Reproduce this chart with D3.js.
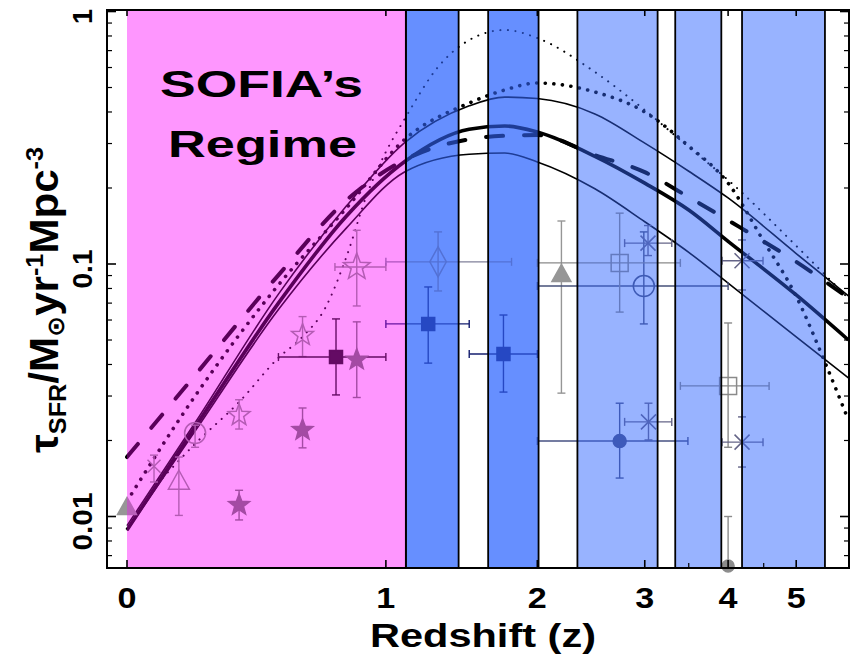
<!DOCTYPE html>
<html><head><meta charset="utf-8">
<script src="https://cdn.jsdelivr.net/npm/d3@7"></script>
<style>
body{margin:0;background:#fff}
svg{display:block}
text{font-family:"Liberation Sans",Arial,"DejaVu Sans",sans-serif;font-weight:bold;fill:#000}
</style>
</head><body>
<svg id="c" width="850" height="656"></svg>
<script>
// ---------------- data ----------------
const zTicks = [0, 1, 2, 3, 4, 5];
const zTickLabels = ["0", "1", "2", "3", "4", "5"];
const zMinorTicks = [3.5, 4.5];
const vTicks = [1, 0.1, 0.01];
const vTickLabels = ["1", "0.1", "0.01"];

const sofiaBand = [[0, 1.11]];
const deepBands = [[1.11, 1.43], [1.63, 2.01]];
const lightBands = [[2.34, 3.14], [3.34, 3.91], [4.19, 5.48]];

const curveZ      = [0, 0.2, 0.5, 0.8, 1.1, 1.5, 1.75, 2, 2.5, 3, 3.5, 4, 5, 5.9];
const fitMain     = [0.00885, 0.0226, 0.070, 0.155, 0.2535, 0.342, 0.352, 0.333, 0.267, 0.209, 0.1636, 0.123, 0.0754, 0.050];
const fitUpper    = [0.0092, 0.0235, 0.076, 0.170, 0.301, 0.423, 0.458, 0.452, 0.393, 0.301, 0.233, 0.1826, 0.110, 0.0747];
const fitLower    = [0.0088, 0.0218, 0.066, 0.139, 0.231, 0.2722, 0.2752, 0.2535, 0.1985, 0.147, 0.1112, 0.084, 0.0514, 0.0354];
const modelDashed = [0.0172, 0.0363, 0.0904, 0.179, 0.258, 0.312, 0.322, 0.324, 0.270, 0.231, 0.184, 0.149, 0.102, 0.0735];

const dotZ        = [0, 0.2, 0.5, 0.8, 1.1, 1.5, 1.75, 2, 2.5, 3, 3.5, 4, 4.5, 5, 5.5, 5.9];
const modelDotted = [0.0115, 0.030, 0.0826, 0.1667, 0.310, 0.434, 0.489, 0.521, 0.48, 0.40, 0.293, 0.209, 0.123, 0.0745, 0.0398, 0.0241];

const fineZ       = [0.1, 0.2, 0.35, 0.5, 0.6, 0.7, 0.8, 0.9, 1.0, 1.1, 1.3, 1.5, 1.75, 2, 2.5, 3, 3.5, 4, 5, 5.9];
const modelFine   = [0.0142, 0.0194, 0.0284, 0.0425, 0.0515, 0.0669, 0.107, 0.1876, 0.278, 0.372, 0.603, 0.771, 0.845, 0.785, 0.576, 0.407, 0.29, 0.215, 0.118, 0.073];

// observational points
const ptZ   = [0, 0.075, 0.149, 0.20, 0.35, 0.35, 0.60, 0.60, 0.75, 0.85, 0.85, 1.30, 1.24, 1.74, 2.20, 2.99, 2.74, 3.035, 3.04, 2.74, 4.00, 4.19, 4.19, 4.00];
const ptV   = [0.0108, 0.0158, 0.0137, 0.0214, 0.0252, 0.0111, 0.022, 0.0523, 0.0428, 0.0418, 0.0973, 0.102, 0.0579, 0.044, 0.0904, 0.0818, 0.101, 0.121, 0.0237, 0.0199, 0.0329, 0.0197, 0.103, 0.00637];
const ptVlo = [null, 0.0137, 0.0101, 0.0188, 0.0222, 0.00969, 0.0187, 0.0430, 0.0303, 0.0296, 0.0682, 0.0782, 0.0405, 0.0311, 0.0308, 0.0579, 0.0645, 0.108, 0.0201, 0.0142, 0.0188, 0.0157, 0.0789, 0.00637];
const ptVhi = [null, 0.0175, 0.0172, 0.0230, 0.0290, 0.0127, 0.0269, 0.0619, 0.0606, 0.0590, 0.136, 0.134, 0.0811, 0.0628, 0.148, 0.134, 0.159, 0.142, 0.0281, 0.0281, 0.0584, 0.0248, 0.1245, 0.0100];
const ptZlo = [null, null, null, null, null, null, null, null, 0.50, null, 0.745, 1.0, 1.0, 1.5, null, 2.0, 2.0, 2.79, 2.79, 2.0, 3.40, 3.92, 3.92, null];
const ptZhi = [null, null, null, null, null, null, null, null, 1.0, null, 1.0, 1.8, 1.5, 2.0, null, 4.0, 3.4, 3.30, 3.30, 3.49, 4.58, 4.49, 4.49, null];
const ptKind = ["triFill", "cross", "triOpen", "circOpen", "starOpen", "starFill", "starFill", "starOpen", "sqFill", "starFill", "starOpenBig", "diamond", "sqFillBlue", "sqFillBlue", "triFill", "circOpenBlue", "sqOpen", "cross2", "cross2", "circFillBlue", "sqOpen", "cross2", "cross2", "circFill"];

// ---------------- drawing ----------------
const svg = d3.select("#c");
const X0 = 107, X1 = 849, Y0 = 10, Y1 = 568;
const xs = d3.scaleLog().domain([1, 6]).range([127, 796.2]);
const xz = z => xs(1 + z);
const ys = d3.scaleLog().domain([1, 0.01]).range([11.5, 516.5]);

svg.append("defs").append("clipPath").attr("id", "plot")
  .append("rect").attr("x", X0).attr("y", Y0).attr("width", X1 - X0).attr("height", Y1 - Y0);

const bands = [
  ...sofiaBand.map(b => ({b, base: "rgb(254,231,254)", over: "rgb(255,0,255)", op: 0.35, sofia: true})),
  ...deepBands.map(b => ({b, base: "rgb(175,202,255)", over: "rgb(51,102,255)", op: 0.59})),
  ...lightBands.map(b => ({b, base: "rgb(236,242,255)", over: "rgb(51,102,255)", op: 0.45}))
];

// base band layer
svg.append("g").selectAll("rect").data(bands).join("rect")
  .attr("x", d => xz(d.b[0])).attr("y", Y0)
  .attr("width", d => xz(d.b[1]) - xz(d.b[0])).attr("height", Y1 - Y0)
  .attr("fill", d => d.base);

// curves
const curveDefs = [
  {z: fineZ, v: modelFine, w: 2, dash: "0.1,7.5"},
  {z: dotZ, v: modelDotted, w: 3.6, dash: "0.1,8.5"},
  {z: curveZ, v: fitUpper, w: 1.6},
  {z: curveZ, v: fitLower, w: 1.6},
  {z: curveZ, v: modelDashed, w: 4, dash: "17,21"},
  {z: curveZ, v: fitMain, w: 3.6}
];
const line = d3.line().x(d => xz(d[0])).y(d => ys(d[1])).curve(d3.curveMonotoneX);
const cg = svg.append("g").attr("clip-path", "url(#plot)");
curveDefs.forEach(c => {
  cg.append("path").attr("d", line(c.z.map((z, i) => [z, c.v[i]])))
    .attr("fill", "none").attr("stroke", "#000").attr("stroke-width", c.w)
    .attr("stroke-linecap", c.dash ? "round" : "butt")
    .attr("stroke-dasharray", c.dash || null);
});

// markers
function starPath(R) {
  let p = "";
  for (let i = 0; i < 10; i++) {
    const r = i % 2 ? R * 0.42 : R, a = -Math.PI / 2 + i * Math.PI / 5;
    p += (i ? "L" : "M") + (r * Math.cos(a)).toFixed(2) + "," + (r * Math.sin(a)).toFixed(2);
  }
  return p + "Z";
}
function shapePath(shape, s) {
  switch (shape) {
    case "tri": { const h = s * 0.9; return `M0,${-h * 0.62}L${s / 2},${h * 0.38}L${-s / 2},${h * 0.38}Z`; }
    case "sq": return `M${-s / 2},${-s / 2}h${s}v${s}h${-s}Z`;
    case "circ": return `M${s},0A${s},${s} 0 1,1 ${-s},0A${s},${s} 0 1,1 ${s},0Z`;
    case "star": return starPath(s);
    case "diam": return `M0,${-s}L${s * 0.55},0L0,${s}L${-s * 0.55},0Z`;
    case "x": { const h = s / 2; return `M${-h},${-h}L${h},${h}M${-h},${h}L${h},${-h}`; }
  }
}
const kindStyle = {
  triFill:      {shape: "tri", size: 19, fill: "#969696", stroke: "#969696"},
  cross:        {shape: "x", size: 13, fill: "none", stroke: "#8c8c8c"},
  triOpen:      {shape: "tri", size: 21, fill: "none", stroke: "#8c8c8c"},
  circOpen:     {shape: "circ", size: 10.5, fill: "none", stroke: "#8c8c8c"},
  starOpen:     {shape: "star", size: 11.5, fill: "none", stroke: "#8c8c8c"},
  starOpenBig:  {shape: "star", size: 14, fill: "none", stroke: "#8c8c8c"},
  starFill:     {shape: "star", size: 11, fill: "#737373", stroke: "#737373"},
  sqFill:       {shape: "sq", size: 13, fill: "#111111", stroke: "#111111"},
  diamond:      {shape: "diam", size: 15, fill: "none", stroke: "#80809a"},
  sqFillBlue:   {shape: "sq", size: 13, fill: "#141e6e", stroke: "#141e6e"},
  circOpenBlue: {shape: "circ", size: 10.5, fill: "none", stroke: "#465078"},
  sqOpen:       {shape: "sq", size: 17, fill: "none", stroke: "#8a8a8a"},
  cross2:       {shape: "x", size: 15, fill: "none", stroke: "#646487"},
  circFillBlue: {shape: "circ", size: 6.5, fill: "#465082", stroke: "#465082"},
  circFill:     {shape: "circ", size: 6, fill: "#8c8c8c", stroke: "#8c8c8c"}
};
const pts = ptZ.map((z, i) => ({z, v: ptV[i], vlo: ptVlo[i], vhi: ptVhi[i], zlo: ptZlo[i], zhi: ptZhi[i], st: kindStyle[ptKind[i]]}));
const pg = svg.append("g");
const cap = 4;
pts.forEach(p => {
  const g = pg.append("g").attr("stroke", p.st.stroke).attr("stroke-width", 1.4).attr("fill", "none");
  const px = xz(p.z), py = ys(p.v);
  if (p.vlo != null) {
    const a = ys(p.vhi), b = ys(p.vlo);
    g.append("line").attr("x1", px).attr("x2", px).attr("y1", a).attr("y2", b);
    g.append("line").attr("x1", px - cap).attr("x2", px + cap).attr("y1", a).attr("y2", a);
    if (p.vlo !== p.v) g.append("line").attr("x1", px - cap).attr("x2", px + cap).attr("y1", b).attr("y2", b);
  }
  if (p.zlo != null) {
    const a = xz(p.zlo), b = xz(p.zhi);
    g.append("line").attr("x1", a).attr("x2", b).attr("y1", py).attr("y2", py);
    g.append("line").attr("x1", a).attr("x2", a).attr("y1", py - cap).attr("y2", py + cap);
    g.append("line").attr("x1", b).attr("x2", b).attr("y1", py - cap).attr("y2", py + cap);
  }
  g.append("path").attr("transform", `translate(${px},${py})`)
    .attr("d", shapePath(p.st.shape, p.st.size))
    .attr("fill", p.st.fill).attr("stroke-width", 1.5);
});

// tint overlay
svg.append("g").selectAll("rect").data(bands).join("rect")
  .attr("x", d => xz(d.b[0])).attr("y", Y0)
  .attr("width", d => xz(d.b[1]) - xz(d.b[0])).attr("height", Y1 - Y0)
  .attr("fill", d => d.over).attr("fill-opacity", d => d.op);

// band borders
const bb = svg.append("g").attr("stroke", "#000").attr("stroke-width", 1.8);
bands.forEach(d => {
  const xa = xz(d.b[0]), xb = xz(d.b[1]);
  if (!d.sofia) bb.append("line").attr("x1", xa).attr("x2", xa).attr("y1", Y0).attr("y2", Y1);
  bb.append("line").attr("x1", xb).attr("x2", xb).attr("y1", Y0).attr("y2", Y1);
});

// SOFIA label
svg.append("text").attr("x", 160).attr("y", 97).attr("font-size", 36)
  .attr("textLength", 203).attr("lengthAdjust", "spacingAndGlyphs").text("SOFIA\u2019s");
svg.append("text").attr("x", 168).attr("y", 157).attr("font-size", 36)
  .attr("textLength", 189).attr("lengthAdjust", "spacingAndGlyphs").text("Regime");

// frame and ticks
const ax = svg.append("g").attr("stroke", "#000");
ax.append("rect").attr("x", X0).attr("y", Y0).attr("width", X1 - X0).attr("height", Y1 - Y0)
  .attr("fill", "none").attr("stroke-width", 2);
const vMin = ys.invert(Y1), vMax = ys.invert(Y0);
const minorV = [];
[0.001, 0.01, 0.1].forEach(d => { for (let k = 2; k <= 9; k++) { const v = k * d; if (v >= vMin && v <= vMax) minorV.push(v); } });
vTicks.forEach(v => {
  ax.append("line").attr("x1", X0).attr("x2", X0 + 9).attr("y1", ys(v)).attr("y2", ys(v)).attr("stroke-width", 1.6);
  ax.append("line").attr("x1", X1).attr("x2", X1 - 9).attr("y1", ys(v)).attr("y2", ys(v)).attr("stroke-width", 1.6);
});
minorV.forEach(v => {
  ax.append("line").attr("x1", X0).attr("x2", X0 + 5).attr("y1", ys(v)).attr("y2", ys(v)).attr("stroke-width", 1.2);
  ax.append("line").attr("x1", X1).attr("x2", X1 - 5).attr("y1", ys(v)).attr("y2", ys(v)).attr("stroke-width", 1.2);
});
zTicks.forEach(z => {
  ax.append("line").attr("x1", xz(z)).attr("x2", xz(z)).attr("y1", Y0).attr("y2", Y0 + 6).attr("stroke-width", 1.6);
  ax.append("line").attr("x1", xz(z)).attr("x2", xz(z)).attr("y1", Y1).attr("y2", Y1 - 8).attr("stroke-width", 1.6);
});
zMinorTicks.forEach(z => {
  ax.append("line").attr("x1", xz(z)).attr("x2", xz(z)).attr("y1", Y1).attr("y2", Y1 - 5).attr("stroke-width", 1.2);
});

// tick labels
svg.append("g").selectAll("text").data(zTicks).join("text")
  .attr("x", d => xz(d)).attr("y", 608).attr("text-anchor", "middle").attr("font-size", 29)
  .attr("textLength", 19).attr("lengthAdjust", "spacingAndGlyphs")
  .text((d, i) => zTickLabels[i]);
const yl = svg.append("g");
vTicks.forEach((v, i) => {
  const t = yl.append("text").attr("transform", `translate(92,${ys(v) + 5}) rotate(-90)`)
    .attr("text-anchor", "middle").attr("font-size", 27).text(vTickLabels[i]);
  if (vTickLabels[i].length > 1) t.attr("textLength", vTickLabels[i] === "0.1" ? 39 : 58).attr("lengthAdjust", "spacingAndGlyphs");
});

// axis titles
svg.append("text").attr("x", 483).attr("y", 647).attr("text-anchor", "middle").attr("font-size", 34)
  .attr("textLength", 226).attr("lengthAdjust", "spacingAndGlyphs").text("Redshift (z)");

const yt = svg.append("text").attr("transform", "translate(58,300) rotate(-90)")
  .attr("text-anchor", "middle").attr("font-size", 40)
  .attr("textLength", 306).attr("lengthAdjust", "spacingAndGlyphs");
yt.append("tspan").text("\u03C4");
yt.append("tspan").attr("font-size", 24).attr("dy", 8).text("SFR");
yt.append("tspan").attr("dy", -8).text("/M");
yt.append("tspan").attr("font-size", 24).attr("dy", 6).text("\u2299");
yt.append("tspan").attr("dy", -6).text("yr");
yt.append("tspan").attr("font-size", 24).attr("dy", -15).text("-1");
yt.append("tspan").attr("dy", 15).text("Mpc");
yt.append("tspan").attr("font-size", 24).attr("dy", -15).text("-3");
</script>
</body></html>
